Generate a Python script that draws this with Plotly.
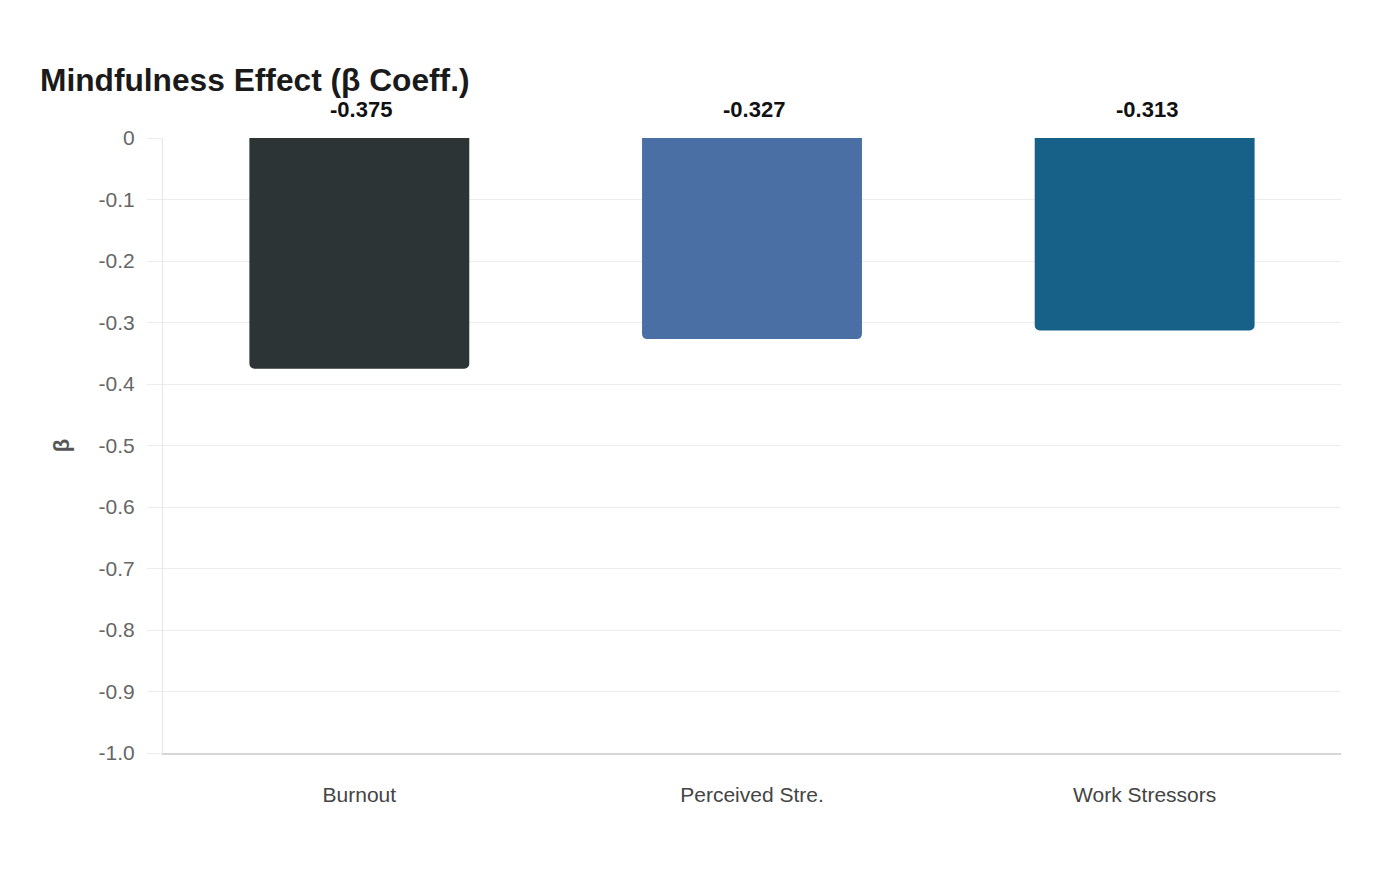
import plotly.graph_objects as go

categories = ["Burnout", "Perceived Stre.", "Work Stressors"]
beta_values = [-0.375, -0.327, -0.313]
bar_colors = ["#2d3436", "#4a6fa5", "#176087"]
y_tick_vals = [0, -0.1, -0.2, -0.3, -0.4, -0.5, -0.6, -0.7, -0.8, -0.9, -1.0]
y_tick_text = ["0", "-0.1", "-0.2", "-0.3", "-0.4", "-0.5", "-0.6", "-0.7", "-0.8", "-0.9", "-1.0"]

SANS = "Liberation Sans, Arial, sans-serif"

fig = go.Figure()
fig.add_trace(go.Bar(
    x=categories,
    y=beta_values,
    marker=dict(color=bar_colors, line=dict(width=0)),
    width=0.56,
    hoverinfo="x+y",
))

for c, v in zip(categories, beta_values):
    fig.add_annotation(
        x=c, y=0, xref="x", yref="y",
        text=f"<b>{v:.3f}</b>",
        showarrow=False, yanchor="bottom", yshift=14, xshift=2,
        font=dict(family=SANS, size=22, color="#111111"),
    )

fig.update_layout(
    width=1400, height=880,
    paper_bgcolor="white", plot_bgcolor="white",
    barcornerradius=5,
    showlegend=False,
    margin=dict(l=155, r=67, t=130, b=135),
    title=dict(
        text="<b>Mindfulness Effect (β Coeff.)</b>",
        x=32 / 1400, xanchor="left", xref="container",
        y=1 - 72 / 880, yanchor="middle", yref="container",
        font=dict(family=SANS, size=31.7, color="#1a1a1a"),
    ),
    font=dict(family=SANS),
)

fig.update_yaxes(
    range=[-1.0, 0],
    tickvals=y_tick_vals, ticktext=y_tick_text,
    showgrid=True, gridcolor="#ececec", gridwidth=1,
    ticks="outside", ticklen=15, tickcolor="#ececec",
    ticklabelstandoff=8,
    showline=True, linecolor="#e6e6e6", linewidth=1,
    zeroline=False,
    tickfont=dict(family=SANS, size=21, color="#666666"),
    title=dict(text="<b>β</b>", font=dict(family=SANS, size=22, color="#555555"), standoff=22),
)
fig.update_xaxes(
    showgrid=False,
    showline=True, linecolor="#d6d6d6", linewidth=1.5,
    ticks="",
    ticklabelstandoff=22,
    tickfont=dict(family=SANS, size=21, color="#444444"),
)

fig.write_html("out.html")
